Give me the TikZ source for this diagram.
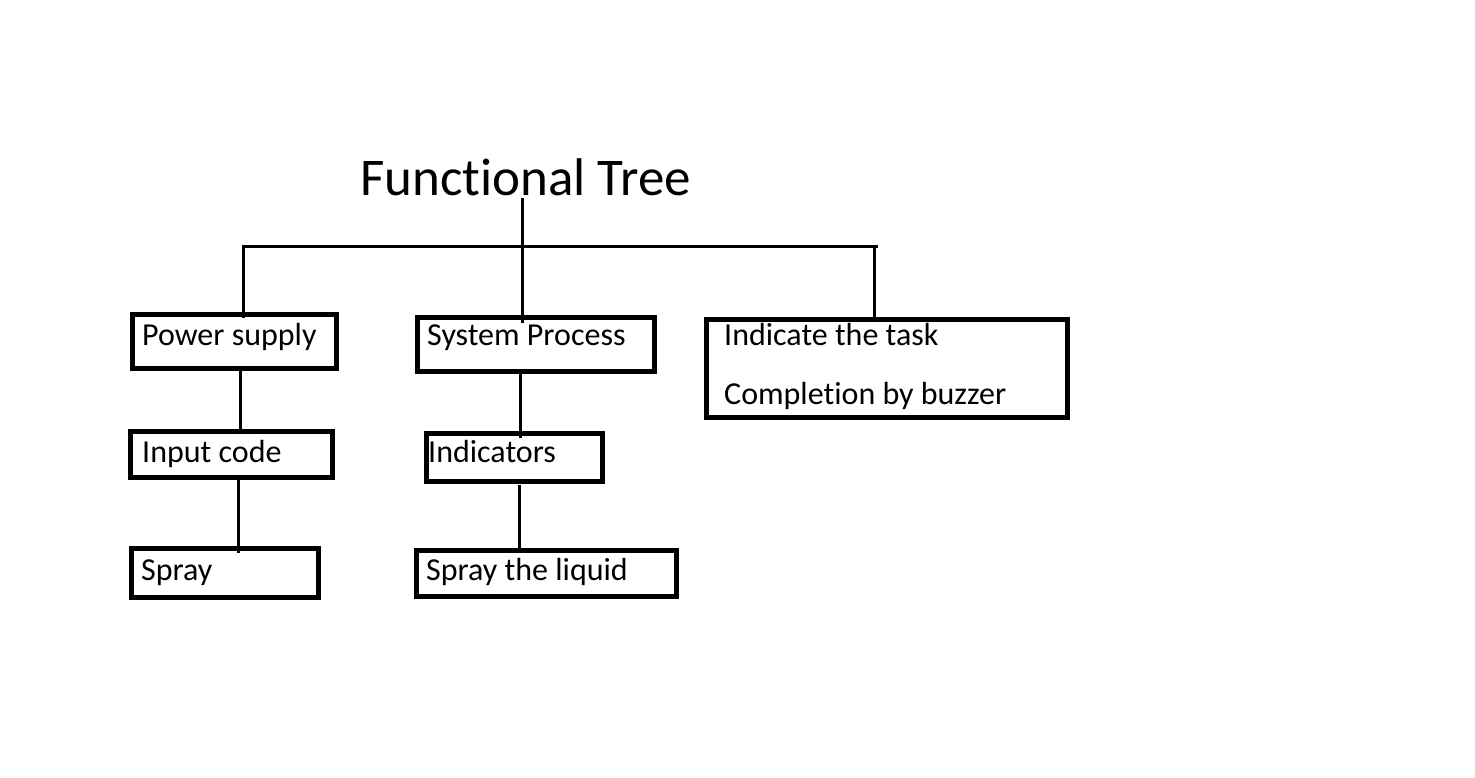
\documentclass[tikz,border=0pt]{standalone}
\usepackage{fontspec}
\setmainfont[Ligatures=NoCommon]{Carlito}
\begin{document}
\begin{tikzpicture}[x=1pt,y=-1pt,
  box/.style={draw, line width=5pt, inner sep=0pt, outer sep=0pt, anchor=north west},
  lbl/.style={anchor=base west, inner sep=0pt, font=\fontsize{32}{38}\selectfont},
  conn/.style={line width=3pt}]
\useasboundingbox[fill=white] (0,0) rectangle (1475,777);
% title
\node[anchor=base west, inner sep=0pt, font=\fontsize{53}{63}\selectfont] (title) at (360,195) {Functional Tree};
% boxes
\node[box, minimum width=204, minimum height=54] (ps) at (132.5,314.5) {};
\node[box, minimum width=237, minimum height=54] (sp) at (417.5,317.5) {};
\node[box, minimum width=361, minimum height=98] (it) at (706.5,319.5) {};
\node[box, minimum width=202, minimum height=46] (ic) at (130.5,431.5) {};
\node[box, minimum width=176, minimum height=48] (ind) at (426.5,433.5) {};
\node[box, minimum width=187, minimum height=49] (spr) at (131.5,548.5) {};
\node[box, minimum width=260, minimum height=46] (sl) at (416.5,550.5) {};
% labels
\node[lbl] (tps) at (142,345) {Power supply};
\node[lbl] (tsp) at (427,345) {System Process};
\node[lbl] (tit1) at (724,345) {Indicate the task};
\node[lbl] (tit2) at (724,404) {Completion by buzzer};
\node[lbl] (tic) at (142,462) {Input code};
\node[lbl] (tind) at (428,462) {Indicators};
\node[lbl] (tspr) at (141,580) {Spray};
\node[lbl] (tsl) at (426,580) {Spray the liquid};
% connector coordinates
\coordinate (t0) at (522,198);
\coordinate (hl) at (243,246);
\coordinate (hr) at (878,246);
\coordinate (hr2) at (874,246);
\coordinate (x1) at (240,0);
\coordinate (x2) at (238,0);
\coordinate (x3) at (520,0);
\coordinate (x4) at (519,0);
% connectors
\draw[conn, shorten >=-5pt] (t0) -- (sp.north -| t0);
\draw[conn] (hl) -- (hr);
\draw[conn, shorten <=-1.5pt, shorten >=-3pt] (hl) -- (ps.north -| hl);
\draw[conn, shorten <=-1.5pt, shorten >=-1pt] (hr2) -- (it.north -| hr2);
\draw[conn] (ps.south -| x1) -- (ic.north -| x1);
\draw[conn, shorten >=-4pt] (ic.south -| x2) -- (spr.north -| x2);
\draw[conn, shorten >=-4pt] (sp.south -| x3) -- (ind.north -| x3);
\draw[conn, shorten <=3pt, shorten >=-2pt] (ind.south -| x4) -- (sl.north -| x4);
\end{tikzpicture}
\end{document}
